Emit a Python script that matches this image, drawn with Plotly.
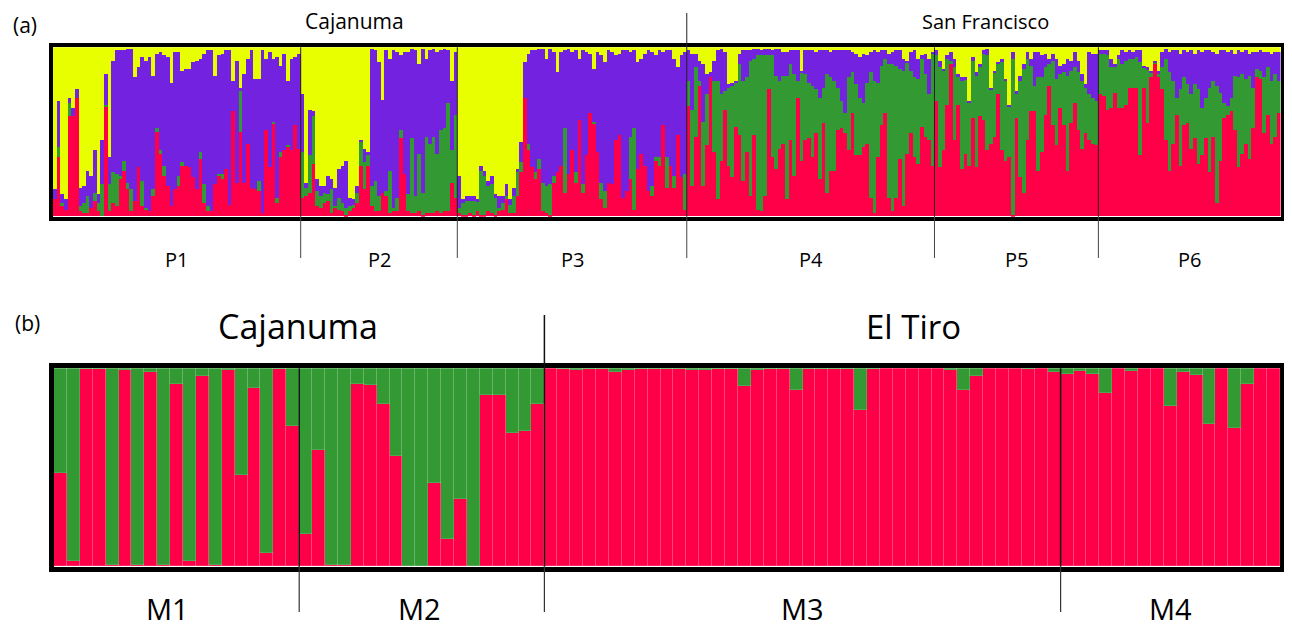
import plotly.graph_objects as go

# ---------------- Panel (a): STRUCTURE K=4, cumulative tops (%) per individual -------------
# each population: red top, green top, purple top (yellow fills up to 100)
P1_red = [10,35,6,4,59,59,70,3,2,2,5,9,3,0,65,3,8,6,22,27,16,3,9,29,6,4,3,12,50,37,24,18,6,16,18,30,30,29,23,16,34,8,3,3,19,24,22,28,7,62,20,50,20,43,17,16,15,2,51,29,55,8,35,39,41,39,54,40]
P1_grn = [10,41,8,4,67,59,70,6,8,12,5,14,8,19,66,19,26,25,24,33,20,16,9,29,21,5,3,16,52,39,30,18,6,16,24,32,30,29,23,16,38,19,6,3,19,25,25,28,7,62,20,74,20,43,17,16,21,2,51,29,56,11,38,39,42,39,54,40]
P1_pur = [16,68,13,10,70,64,75,17,18,27,24,39,13,45,84,35,92,98,98,98,99,99,82,88,94,92,94,83,96,97,95,94,79,97,97,86,87,87,91,92,93,96,98,98,83,95,96,98,98,80,92,76,84,93,98,81,81,98,93,97,93,94,89,96,80,93,94,96]

P2_red = [11,12,14,31,6,5,8,9,2,5,4,3,1,3,5,8,30,16,30,6,3,3,14,12,2,3,3,46,25,3,2,2,3,1,2,2,2,3,2,3,3,20,11]
P2_grn = [38,17,36,59,15,12,14,13,16,6,11,8,5,6,7,14,44,32,36,18,21,12,14,15,27,5,11,51,25,13,46,12,37,14,47,43,47,37,51,52,67,39,60]
P2_pur = [72,20,63,62,22,18,18,24,22,17,28,30,33,11,10,18,45,40,38,99,98,91,69,98,93,98,97,95,97,97,99,98,90,99,93,98,99,97,98,99,98,80,97]

P3_red = [2,1,1,2,1,3,1,1,3,2,1,3,4,10,2,2,12,26,70,39,29,22,
          28,3,2,1,20,26,30,14,25,39,20,57,14,36,61,55,38,10,5,20,19,45,48,11,15,22,4,28,37,30,15,12,33,30,54,17,30,17,48,23,4]
P3_grn = [5,8,9,9,9,9,27,24,18,19,11,5,8,12,7,12,26,32,70,43,29,26,
          34,20,18,19,24,26,30,52,25,39,26,57,19,36,61,56,38,20,15,20,19,45,48,11,15,47,52,28,37,30,15,18,35,35,54,35,30,24,48,23,25]
P3_pur = [24,10,12,12,12,10,30,27,21,24,13,12,12,19,10,17,28,44,91,96,98,98,
          99,99,93,99,97,85,97,98,99,97,98,93,98,97,96,87,97,95,91,98,97,95,96,98,98,97,98,91,93,96,98,97,95,98,97,98,98,93,88,95,97]

P4_red = [65,18,47,77,18,42,82,38,10,33,63,30,23,53,48,21,38,12,48,4,3,12,75,35,28,40,
          43,10,45,24,70,33,45,46,35,49,22,55,14,27,27,51,52,49,39,61,36,36,41,43,11,2,35,54,61,11,3,11,34,6,37,49,35,31,53,47,45,30]
P4_grn = [80,63,88,80,56,72,82,80,80,72,74,76,77,79,90,80,82,92,93,95,95,95,95,95,83,80,
          83,83,90,84,80,85,84,79,77,75,70,76,84,82,80,76,68,61,82,85,78,70,67,79,85,80,79,89,93,90,90,89,87,86,91,86,82,81,93,84,72,96]
P4_pur = [98,96,96,92,90,84,85,92,98,99,97,78,79,80,96,98,98,98,99,99,98,99,99,98,99,99,
          97,97,98,98,98,86,98,98,98,97,98,98,98,97,98,98,98,98,98,97,96,94,96,95,97,98,97,98,98,96,97,98,98,93,92,97,98,93,95,96,93,97]

P5_red = [68,29,39,66,90,45,66,28,37,30,58,29,59,57,39,43,47,72,39,33,35,1,58,23,14,45,
          62,62,27,38,60,77,54,42,64,54,27,55,67,51,40,49,45,43,42]
P5_grn = [95,88,86,93,92,88,82,80,81,67,92,83,88,96,95,75,85,90,91,80,65,93,72,80,87,93,
          89,77,82,82,88,90,92,81,84,85,83,86,88,85,80,76,72,70,68]
P5_pur = [98,92,87,95,97,93,84,82,82,68,94,85,90,98,99,76,86,91,93,81,66,97,74,83,90,97,
          93,97,97,95,96,93,96,93,89,90,93,92,97,92,84,78,97,96,96]

P6_red = [72,71,63,64,73,64,64,66,76,76,76,36,76,55,82,90,82,75,45,27,43,60,30,54,55,40,46,31,36,46,26,47,8,33,58,60,62,51,29,37,43,34,52,82,81,49,60,43,47,61]
P6_grn = [96,96,95,88,88,93,90,92,93,93,94,91,88,87,85,91,84,88,93,85,80,70,75,82,78,72,78,75,64,70,76,80,77,73,67,65,70,83,82,84,81,83,76,87,86,82,88,80,84,80]
P6_pur = [98,98,98,93,90,95,98,97,98,97,98,98,89,88,86,92,86,97,99,97,98,98,96,98,97,98,96,98,97,98,98,97,96,98,98,97,98,96,98,97,98,96,97,97,98,97,97,96,97,97]

pops_a = ["P1", "P2", "P3", "P4", "P5", "P6"]
red_a = [P1_red, P2_red, P3_red, P4_red, P5_red, P6_red]
grn_a = [P1_grn, P2_grn, P3_grn, P4_grn, P5_grn, P6_grn]
pur_a = [P1_pur, P2_pur, P3_pur, P4_pur, P5_pur, P6_pur]

# ---------------- Panel (b): K=2, red membership per individual -------------
M1_red = [0.47,0.025,0.995,0.995,0.005,0.99,0.005,0.98,0.005,0.92,0.025,0.96,0.005,0.99,0.46,0.90,0.07,0.995,0.71]
M2_red = [0.165,0.585,0.005,0.005,0.92,0.915,0.82,0.556,0.003,0.003,0.42,0.14,0.34,0.003,0.865,0.865,0.67,0.685,0.82]
M3_red = [1.0,0.997,0.99,0.995,0.995,0.98,0.99,0.995,0.997,0.997,0.995,0.99,0.99,0.995,0.995,0.91,0.99,0.995,0.997,0.89,
          0.995,0.997,0.997,0.995,0.79,0.997,1.0,1.0,1.0,1.0,1.0,0.99,0.89,0.96,1.0,1.0,1.0,0.995,1.0,0.98]
M4_red = [0.97,0.985,0.97,0.875,1.0,0.985,1.0,1.0,0.81,0.98,0.967,0.72,1.0,0.70,0.92,1.0,1.0]
pops_b = ["M1", "M2", "M3", "M4"]
red_b = [M1_red, M2_red, M3_red, M4_red]

RED = "#FF0048"
GREEN = "#339933"
PURPLE = "#7322E0"
YELLOW = "#E8FF00"
FONT = "Open Sans"

# ---- build panel (a) series
ra, ga, pa, ya = [], [], [], []
for r, g, p in zip(red_a, grn_a, pur_a):
    for rv, gv, pv in zip(r, g, p):
        ra.append(rv)
        ga.append(gv - rv)
        pa.append(pv - gv)
        ya.append(100 - pv)
Na = len(ra)
xa = list(range(Na))
bounds_a = []
c = 0
for r in red_a:
    bounds_a.append((c, c + len(r)))
    c += len(r)

# ---- build panel (b)
rb = [v for grp in red_b for v in grp]
gb = [1 - v for v in rb]
Nb = len(rb)
xb = list(range(Nb))
bounds_b = []
c = 0
for r in red_b:
    bounds_b.append((c, c + len(r)))
    c += len(r)

fig = go.Figure()
for vals, col in [(ra, RED), (ga, GREEN), (pa, PURPLE), (ya, YELLOW)]:
    fig.add_trace(go.Bar(x=xa, y=vals, width=1, marker=dict(color=col, line=dict(width=0)),
                         xaxis="x", yaxis="y", showlegend=False, hoverinfo="skip"))
for vals, col in [(rb, RED), (gb, GREEN)]:
    fig.add_trace(go.Bar(x=xb, y=vals, width=1,
                         marker=dict(color=col, line=dict(width=0.8, color="rgba(255,255,255,0.18)")),
                         xaxis="x2", yaxis="y2", showlegend=False, hoverinfo="skip"))

W, H = 1292, 628
OFF = 8  # page body margin offset
def px(xp):
    return (xp - OFF) / W
def py(yp):
    return 1 - (yp - OFF) / H

ax_common = dict(showgrid=False, zeroline=False, showticklabels=False, ticks="",
                 showline=True, mirror=True, linecolor="black", fixedrange=True)
fig.update_layout(
    width=W, height=H, margin=dict(l=0, r=0, t=0, b=0),
    paper_bgcolor="white", plot_bgcolor="white",
    barmode="stack", bargap=0,
    xaxis=dict(domain=[px(53), px(1280.5)], range=[-0.5, Na - 0.5], anchor="y", linewidth=3.5, **ax_common),
    yaxis=dict(domain=[py(216.7), py(47.3)], range=[0, 100], anchor="x", linewidth=3.5, **ax_common),
    xaxis2=dict(domain=[px(54), px(1280)], range=[-0.5, Nb - 0.5], anchor="y2", linewidth=5, **ax_common),
    yaxis2=dict(domain=[py(566.7), py(368.3)], range=[0, 1], anchor="x2", linewidth=5, **ax_common),
    font=dict(family=FONT, color="black"),
)

shapes = []
# population dividers panel (a)
for i, (s, e) in enumerate(bounds_a[1:]):
    xv = s - 0.5
    top = py(13) if i == 2 else py(47.3)
    shapes.append(dict(type="line", xref="x", yref="paper", x0=xv, x1=xv, y0=py(258), y1=py(216.7),
                       line=dict(color="#444", width=1)))
    shapes.append(dict(type="line", xref="x", yref="paper", x0=xv, x1=xv, y0=py(216.7), y1=top,
                       line=dict(color="#222", width=1)))
# population dividers panel (b)
for i, (s, e) in enumerate(bounds_b[1:]):
    xv = s - 0.5
    top = py(315) if i == 1 else py(368.3)
    shapes.append(dict(type="line", xref="x2", yref="paper", x0=xv, x1=xv, y0=py(612), y1=py(566.7),
                       line=dict(color="#333", width=1.2)))
    shapes.append(dict(type="line", xref="x2", yref="paper", x0=xv, x1=xv, y0=py(566.7), y1=top,
                       line=dict(color="#111", width=1.5)))
fig.update_layout(shapes=shapes)

ann = []
def text(x, y, s, size):
    ann.append(dict(x=px(x), y=py(y), xref="paper", yref="paper", text=s, showarrow=False,
                    xanchor="center", yanchor="middle", font=dict(family=FONT, size=size, color="black")))

text(25, 25, "(a)", 21)
text(354, 21, "Cajanuma", 21)
text(985, 21, "San Francisco", 20)
for name, (s, e) in zip(pops_a, bounds_a):
    ann.append(dict(x=(s + e - 1) / 2, y=py(259), xref="x", yref="paper", text=name, showarrow=False,
                    xanchor="center", yanchor="middle", font=dict(family=FONT, size=20, color="black")))
text(27, 323, "(b)", 21)
text(297.5, 326, "Cajanuma", 34)
text(913, 326, "El Tiro", 33)
label_shift_b = [-0.7, -0.2, 0.0, 0.0]  # small text nudges (in bar widths)
for name, (s, e), sh in zip(pops_b, bounds_b, label_shift_b):
    ann.append(dict(x=(s + e - 1) / 2 + sh, y=py(608), xref="x2", yref="paper", text=name, showarrow=False,
                    xanchor="center", yanchor="middle", font=dict(family=FONT, size=29, color="black")))
fig.update_layout(annotations=ann)

fig.write_html("out.html")
